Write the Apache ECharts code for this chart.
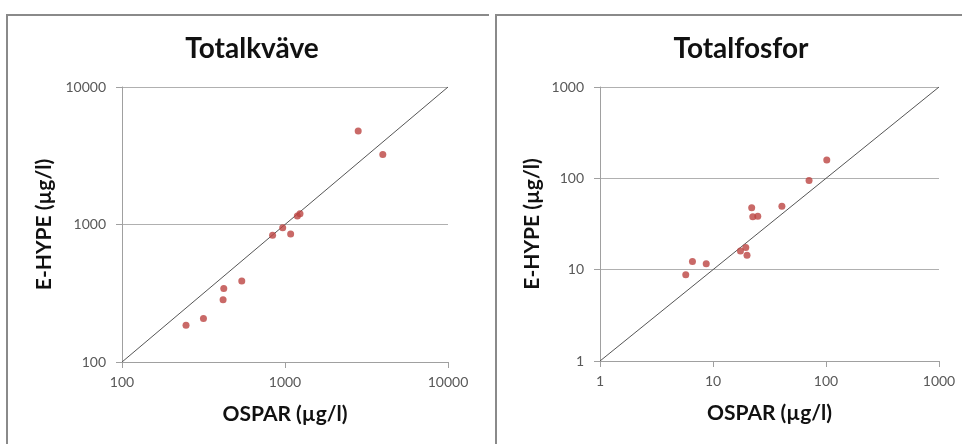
<!DOCTYPE html>
<html>
<head>
<meta charset="utf-8">
<script src="https://cdn.jsdelivr.net/npm/echarts@6/dist/echarts.min.js"></script>
<style>
  html, body { margin: 0; padding: 0; background: #fff; }
  #chart { width: 962px; height: 444px; }
</style>
</head>
<body>
<div id="chart"></div>
<script>
// Totalkväve (µg/l): OSPAR vs E-HYPE
var kvaveOspar = [247, 316, 417, 421, 543, 839, 968, 1083, 1191, 1236, 2812, 3981];
var kvaveHype  = [185, 207, 284, 342, 388, 834, 949, 853, 1153, 1199, 4786, 3223];
var kvaveLine  = [100, 10000];

// Totalfosfor (µg/l): OSPAR vs E-HYPE
var fosforOspar = [5.74, 6.58, 8.71, 17.5, 19.5, 20.0, 22.0, 22.5, 24.9, 40.7, 70.8, 101.6];
var fosforHype  = [8.8, 12.3, 11.6, 16.0, 17.5, 14.4, 47.5, 37.9, 38.5, 49.6, 94.6, 159];
var fosforLine  = [1, 1000];

var titles = ['Totalkväve', 'Totalfosfor'];
var xName = 'OSPAR (µg/l)';
var yName = 'E-HYPE (µg/l)';

function pairs (xs, ys) {
  return xs.map(function (x, i) { return [x, ys[i]]; });
}

var font = 'Lato, "Open Sans", sans-serif';

function xAxisOf (idx, min, max) {
  return {
    type: 'log', logBase: 10, gridIndex: idx, min: min, max: max,
    name: xName, nameLocation: 'middle', nameGap: 42,
    nameTextStyle: { fontFamily: font, fontWeight: 'bold', fontSize: 21, color: '#111' },
    axisLine: { show: true, lineStyle: { color: '#a0a0a0', width: 1 } },
    axisTick: { show: true, length: 6, lineStyle: { color: '#a0a0a0' } },
    minorTick: { show: false },
    splitLine: { show: false },
    axisLabel: {
      margin: 13, fontFamily: font, fontSize: 14, color: '#595959',
      formatter: function (v) { return String(Math.round(v)); }
    }
  };
}

function yAxisOf (idx, min, max, gap) {
  return {
    type: 'log', logBase: 10, gridIndex: idx, min: min, max: max,
    name: yName, nameLocation: 'middle', nameGap: gap, nameRotate: 90,
    nameTextStyle: { fontFamily: font, fontWeight: 'bold', fontSize: 21, color: '#111' },
    axisLine: { show: true, lineStyle: { color: '#a0a0a0', width: 1 } },
    axisTick: { show: true, length: 6, lineStyle: { color: '#a0a0a0' } },
    minorTick: { show: false },
    splitLine: { show: true, lineStyle: { color: '#b0b0b0', width: 1 } },
    axisLabel: {
      margin: 16, fontFamily: font, fontSize: 14, color: '#595959',
      formatter: function (v) { return String(Math.round(v)); }
    }
  };
}

function scatterOf (idx, data) {
  return {
    type: 'scatter', xAxisIndex: idx, yAxisIndex: idx, data: data,
    symbol: 'circle', symbolSize: 7, silent: true,
    itemStyle: { color: '#bc4441' }
  };
}

function diagOf (idx, ends) {
  return {
    type: 'line', xAxisIndex: idx, yAxisIndex: idx,
    data: pairs(ends, ends), symbol: 'none', silent: true,
    lineStyle: { color: '#555', width: 1 }, z: 1
  };
}

var chartDom = document.getElementById('chart');
var myChart = echarts.init(chartDom, null, { renderer: 'canvas' });
var option;

option = {
  animation: false,
  backgroundColor: '#fff',
  title: [
    { text: titles[0], left: 247, top: 30, textAlign: 'center',
      textStyle: { fontFamily: font, fontWeight: 'bold', fontSize: 28, color: '#111' } },
    { text: titles[1], left: 736, top: 30, textAlign: 'center',
      textStyle: { fontFamily: font, fontWeight: 'bold', fontSize: 28, color: '#111' } }
  ],
  grid: [
    { left: 122, top: 87, width: 326, height: 275 },
    { left: 600, top: 87, width: 339, height: 274 }
  ],
  xAxis: [xAxisOf(0, 100, 10000), xAxisOf(1, 1, 1000)],
  yAxis: [yAxisOf(0, 100, 10000, 67), yAxisOf(1, 1, 1000, 57)],
  graphic: [
    { type: 'polyline', silent: true,
      shape: { points: [[7, 460], [7, 15], [489, 15]] },
      style: { stroke: '#8a8a8a', lineWidth: 2, fill: null } },
    { type: 'polyline', silent: true,
      shape: { points: [[496, 460], [496, 15], [970, 15]] },
      style: { stroke: '#8a8a8a', lineWidth: 2, fill: null } }
  ],
  series: [
    diagOf(0, kvaveLine),
    scatterOf(0, pairs(kvaveOspar, kvaveHype)),
    diagOf(1, fosforLine),
    scatterOf(1, pairs(fosforOspar, fosforHype))
  ]
};

option && myChart.setOption(option);
</script>
</body>
</html>
